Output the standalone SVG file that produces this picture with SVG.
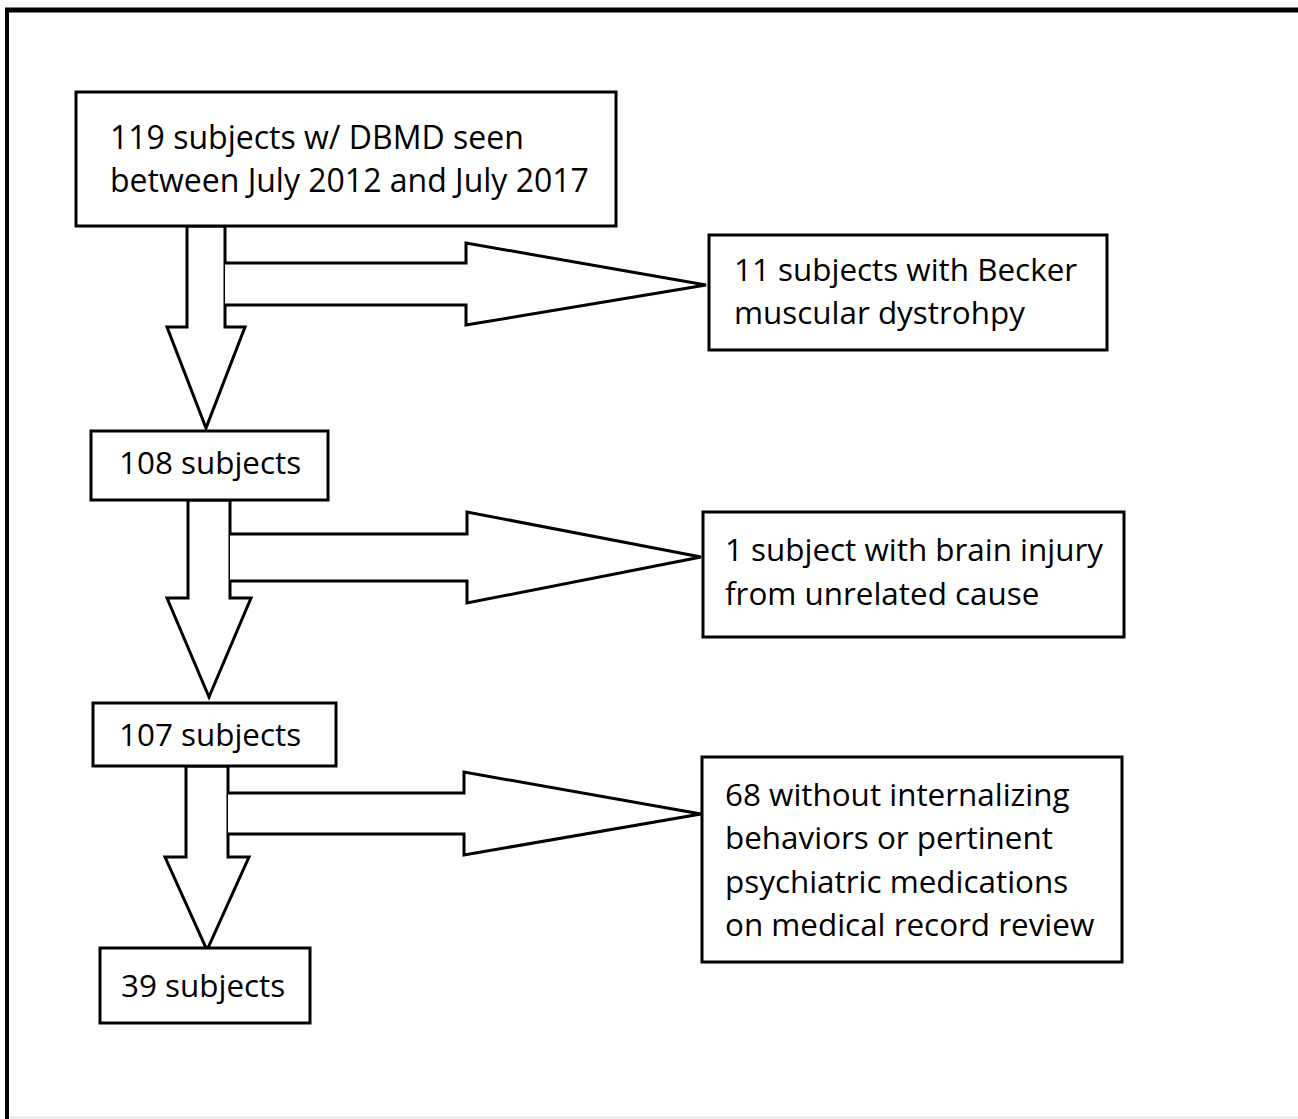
<svg xmlns="http://www.w3.org/2000/svg" width="1298" height="1119" viewBox="0 0 1298 1119">
<style>
.box{fill:#fff;stroke:#000;stroke-width:3}
.arr{fill:#fff;stroke:#000;stroke-width:3;stroke-linejoin:miter}
text{font-family:"Open Sans","Liberation Sans",sans-serif;font-size:31.4px;fill:#000}
#n119 text{font-size:32px}
</style>
<rect x="0" y="0" width="1298" height="1119" fill="#fff"/>
<g id="frame">
<line x1="5" y1="10" x2="1298" y2="10" stroke="#000" stroke-width="5"/>
<line x1="7" y1="8" x2="7" y2="1119" stroke="#000" stroke-width="4"/>
<line x1="9" y1="1117.5" x2="1298" y2="1117.5" stroke="#e6e6e6" stroke-width="2"/>
</g>
<g id="connectors">
<polygon class="arr" points="187,226 225,226 225,327 245,327 206,428 167,327 187,327"/>
<path class="arr" d="M225,263 L466,263 L466,243 L706,285 L466,325 L466,305 L225,305"/>
<polygon class="arr" points="188,500 230,500 230,598 251,598 209,697 167,598 188,598"/>
<path class="arr" d="M230,534 L467,534 L467,512 L701,557 L467,603 L467,581 L230,581"/>
<polygon class="arr" points="186,766 228,766 228,857 249,857 207,950 165,857 186,857"/>
<path class="arr" d="M228,793 L464,793 L464,772 L701,814 L464,855 L464,834 L228,834"/>
</g>
<g id="n119">
<rect class="box" x="76" y="92" width="540" height="134"/>
<text x="110" y="149">119 subjects w/ DBMD seen</text>
<text x="110" y="192">between July 2012 and July 2017</text>
</g>
<g id="nBecker">
<rect class="box" x="709" y="235" width="398" height="115"/>
<text x="734" y="281">11 subjects with Becker</text>
<text x="734" y="324">muscular dystrohpy</text>
</g>
<g id="n108">
<rect class="box" x="91" y="431" width="237" height="69"/>
<text x="119" y="474">108 subjects</text>
</g>
<g id="nBrain">
<rect class="box" x="703" y="512" width="421" height="125"/>
<text x="725" y="561">1 subject with brain injury</text>
<text x="725" y="605">from unrelated cause</text>
</g>
<g id="n107">
<rect class="box" x="93" y="703" width="243" height="63"/>
<text x="119" y="746">107 subjects</text>
</g>
<g id="nInternal">
<rect class="box" x="702" y="757" width="420" height="205"/>
<text x="725" y="806">68 without internalizing</text>
<text x="725" y="849">behaviors or pertinent</text>
<text x="725" y="893">psychiatric medications</text>
<text x="725" y="936">on medical record review</text>
</g>
<g id="n39">
<rect class="box" x="100" y="948" width="210" height="75"/>
<text x="121" y="997">39 subjects</text>
</g>
</svg>
